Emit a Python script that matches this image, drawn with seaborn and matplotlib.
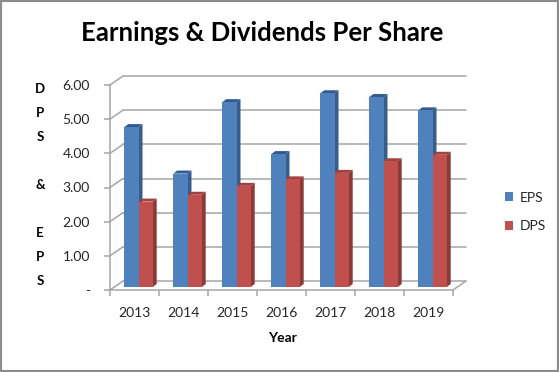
import numpy as np
import pandas as pd
import matplotlib
matplotlib.use("Agg")
import matplotlib.pyplot as plt
import seaborn as sns
from matplotlib.patches import Polygon, Rectangle
from matplotlib.transforms import ScaledTranslation, IdentityTransform

# chart data
years = ["2013", "2014", "2015", "2016", "2017", "2018", "2019"]
eps = [4.68, 3.32, 5.41, 3.89, 5.67, 5.56, 5.17]
dps = [2.50, 2.70, 2.96, 3.15, 3.34, 3.68, 3.87]
series = ["EPS", "DPS"]
y_ticks = [0, 1, 2, 3, 4, 5, 6]
y_tick_labels = ["-", "1.00", "2.00", "3.00", "4.00", "5.00", "6.00"]

W, H, DPI = 559, 372, 100
FRONT = {"EPS": "#4F81BD", "DPS": "#C0504D"}
SIDE = {"EPS": "#385D8A", "DPS": "#8C3A37"}
TOP = {"EPS": "#2F5A93", "DPS": "#A3413E"}
GRID = "#A6A6A6"
TEXT = "#262626"

df = pd.DataFrame({
    "Year": years * 2,
    "Value": eps + dps,
    "Series": ["EPS"] * len(years) + ["DPS"] * len(years),
})

sns.set_style("white")
plt.rcParams["font.family"] = ["Lato", "DejaVu Sans"]

fig = plt.figure(figsize=(W / DPI, H / DPI), dpi=DPI)
# front plane of the 3d box, in pixels
left, right, bottom, top = 110, 453, 290, 85
ax = fig.add_axes([left / W, 1 - bottom / H, (right - left) / W, (bottom - top) / H])
ax.set_facecolor("none")

sns.barplot(data=df, x="Year", y="Value", hue="Series", hue_order=series,
            palette=FRONT, width=0.58, saturation=1, ax=ax, legend=False)
ax.set_xlim(-0.5, len(years) - 0.5)
ax.set_ylim(0, 6)


def px(dx, dy):
    return ScaledTranslation(dx / DPI, dy / DPI, fig.dpi_scale_trans)


# back wall gridlines + diagonal links to the front ticks
back = ax.transData + px(13, 9)
for v in y_ticks:
    ax.plot([-0.5, len(years) - 0.5], [v, v], color=GRID, lw=1.1,
            transform=back, clip_on=False, zorder=0.5)
    p0 = ax.transData.transform((-0.5, v))
    ax.plot([p0[0], p0[0] + 13], [p0[1], p0[1] + 9], color=GRID, lw=1.1,
            transform=IdentityTransform(), clip_on=False, zorder=0.5)
p1 = ax.transData.transform((len(years) - 0.5, 0))
ax.plot([p1[0], p1[0] + 13], [p1[1], p1[1] + 9], color=GRID, lw=1.1,
        transform=IdentityTransform(), clip_on=False, zorder=0.5)

# give the bars some depth
shift, depth = (4, 3), (4, 3)
n = len(years)
for i, bar in enumerate(list(ax.patches)):
    name = series[i // n]
    z = 2 if name == "EPS" else 4
    bar.set_transform(ax.transData + px(*shift))
    bar.set_zorder(z)
    bar.set_edgecolor("none")
    bar.set_linewidth(0)
    x, w, h = bar.get_x(), bar.get_width(), bar.get_height()
    a = ax.transData.transform([(x, 0), (x + w, 0), (x + w, h), (x, h)])
    a = a + np.array(shift)
    b = a + np.array(depth)
    side = Polygon([a[1], a[2], b[2], b[1]], closed=True, fc=SIDE[name], ec="none",
                   transform=IdentityTransform(), clip_on=False, zorder=z - 0.5)
    lid = Polygon([a[3], a[2], b[2], b[3]], closed=True, fc=TOP[name], ec="none",
                  transform=IdentityTransform(), clip_on=False, zorder=z - 0.5)
    ax.add_patch(side)
    ax.add_patch(lid)

# axes styling
sns.despine(ax=ax, top=True, right=True)
for s in ["left", "bottom"]:
    ax.spines[s].set_color(GRID)
    ax.spines[s].set_linewidth(1.1)
    ax.spines[s].set_zorder(0.6)
ax.set_yticks(y_ticks)
ax.set_yticklabels(y_tick_labels)
ax.set_xticks(np.arange(-0.5, n, 1.0))
ax.set_xticklabels([])
ax.set_xticks(np.arange(n), minor=True)
ax.set_xticklabels(years, minor=True)
ax.tick_params(axis="y", which="major", length=4, width=1.1, color=GRID,
               labelsize=10, labelcolor=TEXT, pad=10.5, left=True)
ax.tick_params(axis="x", which="major", length=4, width=1.1, color=GRID, bottom=True)
ax.tick_params(axis="x", which="minor", length=0, labelsize=10, labelcolor=TEXT, pad=12)
ax.set_xlabel("")
ax.set_ylabel("")

fig.text(282 / W, 1 - 338 / H, "Year", ha="center", va="center",
         fontsize=10, fontweight="bold", color="black")
fig.text(40 / W, 1 - 185 / H, "D\nP\nS\n\n&\n\nE\nP\nS", ha="center", va="center",
         fontsize=9.5, fontweight="bold", color="black", linespacing=2.2)
fig.text(262 / W, 1 - 41 / H, "Earnings & Dividends Per Share", ha="center",
         va="baseline", fontsize=18.5, fontweight="bold", color="black")

handles = [Rectangle((0, 0), 1, 1, fc=FRONT[s], ec="none") for s in series]
fig.legend(handles, series, loc="center left", bbox_to_anchor=(498 / W, 1 - 212 / H),
           frameon=False, fontsize=10, handlelength=0.6, handleheight=0.6,
           handletextpad=0.45, labelspacing=1.2, borderpad=0, labelcolor=TEXT)

fig.patches.append(Rectangle((0, 0), 1, 1, transform=fig.transFigure, fill=False,
                             ec="#8C8C8C", lw=3, zorder=10))

fig.savefig("out.png", dpi=DPI)
